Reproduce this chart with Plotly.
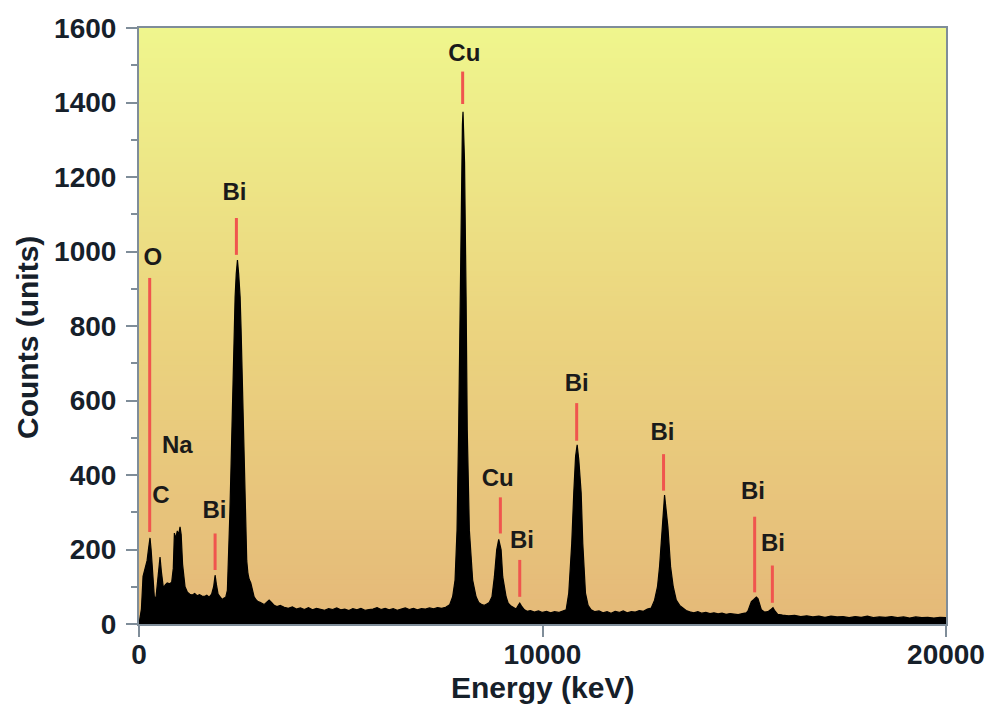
import plotly.graph_objects as go

# ---------------- data ----------------
energy_ev = [
    0, 60, 100, 150, 200, 240, 273, 300, 340, 380, 420, 470, 521, 555, 604, 650,
    700, 760, 810, 850, 877, 910, 950, 985, 1017, 1045, 1080, 1141, 1200, 1260,
    1320, 1380, 1440, 1500, 1560, 1620, 1680, 1740, 1800, 1850, 1886, 1920, 1960,
    2010, 2060, 2110, 2150, 2190, 2216, 2250, 2283, 2310, 2340, 2362, 2382, 2410,
    2440, 2470, 2506, 2530, 2548, 2575, 2605, 2640, 2670, 2700, 2730, 2771, 2810,
    2853, 2900, 2950, 3000, 3044, 3100, 3160, 3225, 3290, 3350, 3420, 3500, 3600,
    3700, 3800, 3900, 4000, 4100, 4200, 4300, 4400, 4500, 4600, 4700, 4800, 4900,
    5000, 5100, 5200, 5300, 5400, 5500, 5600, 5700, 5800, 5900, 6000, 6100, 6200,
    6300, 6400, 6500, 6600, 6700, 6800, 6900, 7000, 7100, 7200, 7300, 7400, 7500,
    7600, 7700, 7773, 7833, 7882, 7922, 7964, 7994, 8015, 8030, 8045, 8068, 8106,
    8135, 8187, 8269, 8354, 8420, 8500, 8560, 8620, 8680, 8748, 8808, 8865, 8915,
    8974, 9014, 9098, 9150, 9220, 9300, 9346, 9400, 9436, 9480, 9552, 9620, 9700,
    9800, 9900, 10000, 10100, 10200, 10300, 10400, 10500, 10586, 10651, 10725,
    10775, 10820, 10859, 10900, 10958, 10998, 11065, 11130, 11206, 11300, 11400,
    11500, 11600, 11700, 11800, 11900, 12000, 12100, 12200, 12300, 12400, 12500,
    12600, 12695, 12777, 12850, 12901, 12968, 13000, 13025, 13060, 13107, 13174,
    13240, 13316, 13400, 13480, 13560, 13650, 13750, 13850, 13950, 14050, 14150,
    14250, 14350, 14450, 14550, 14650, 14750, 14850, 14950, 15050, 15092, 15176,
    15230, 15300, 15340, 15380, 15425, 15500, 15588, 15650, 15712, 15760, 15829,
    15950, 16100, 16250, 16400, 16550, 16700, 16850, 17000, 17150, 17300, 17450,
    17600, 17750, 17900, 18050, 18200, 18350, 18500, 18650, 18800, 18950, 19100,
    19250, 19400, 19550, 19700, 19850, 20000,
]
counts = [
    0, 40, 128, 150, 170, 205, 231, 200, 120, 73, 70, 120, 180, 140, 97, 105,
    110, 108, 112, 150, 244, 230, 250, 240, 261, 240, 160, 100, 85, 80,
    78, 82, 76, 79, 75, 74, 77, 72, 80, 100, 131, 105, 80,
    73, 66, 70, 72, 90, 164, 290, 432, 580, 700, 800, 878, 940,
    977, 940, 878, 790, 700, 560, 432, 280, 170, 135, 120, 110, 95,
    73, 65, 60, 58, 56, 52, 58, 64, 57, 50, 47, 50, 45,
    42, 46, 40, 43, 39, 44, 38, 42, 40, 37, 41, 39, 43,
    38, 40, 36, 41, 38, 42, 37, 39, 40, 44, 39, 42, 38,
    41, 37, 40, 43, 39, 42, 38, 41, 40, 43, 41, 44, 42,
    45, 52, 73, 118, 252, 521, 878, 1240, 1340, 1375, 1330, 1240, 878,
    521, 252, 118, 73, 58, 52, 50, 54, 58, 73, 127, 199, 227,
    199, 127, 73, 56, 48, 42, 40, 50, 56, 48, 38, 34, 36,
    32, 35, 31, 34, 30, 33, 31, 35, 38, 83, 217,
    352, 450, 481, 440, 352, 217, 83, 50, 38, 33, 35,
    30, 33, 29, 34, 31, 35, 30, 33, 32, 36, 34,
    40, 43, 64, 100, 154, 261, 320, 346, 310, 261, 154,
    100, 64, 50, 43, 36, 33, 30, 33, 29, 31, 28,
    30, 27, 29, 26, 28, 27, 25, 28, 30, 35, 60,
    65, 72, 68, 55, 38, 32, 33, 38, 44, 35, 26,
    24, 22, 23, 20, 22, 19, 21, 18, 21, 19, 20,
    17, 20, 18, 21, 17, 19, 18, 20, 17, 19, 16,
    19, 17, 18, 16, 18, 17,
]

label_text = ["O", "C", "Na", "Bi", "Bi", "Cu", "Cu", "Bi", "Bi", "Bi", "Bi", "Bi"]
label_energy = [340, 546, 951, 1869, 2365, 8062, 8890, 9490, 10846, 12975, 15216, 15713]
label_counts = [980, 341, 476, 302, 1155, 1528, 387, 221, 642, 510, 351, 212]

line_energy = [265, 1886, 2414, 8021, 8956, 9436, 10847, 13000, 15258, 15697]
line_top = [929, 243, 1090, 1483, 340, 172, 593, 456, 288, 157]
line_bottom = [247, 145, 991, 1396, 243, 73, 492, 358, 85, 57]

x_ticks = [0, 10000, 20000]
y_ticks = [0, 200, 400, 600, 800, 1000, 1200, 1400, 1600]

x_title = "Energy (keV)"
y_title = "Counts (units)"

# ---------------- figure ----------------
FONT = "Liberation Sans, Arial, Helvetica, sans-serif"
AXIS_COLOR = "#7f8d99"
TEXT_COLOR = "#16202a"
RED = "#f0554e"

fig = go.Figure()

fig.add_trace(go.Scatter(
    x=energy_ev, y=counts, mode="lines",
    line=dict(color="black", width=1.2),
    fill="tozeroy", fillcolor="black",
    hoverinfo="x+y",
))

lx, ly = [], []
for e, t, b in zip(line_energy, line_top, line_bottom):
    lx += [e, e, None]
    ly += [b, t, None]
fig.add_trace(go.Scatter(x=lx, y=ly, mode="lines",
                         line=dict(color=RED, width=3), hoverinfo="skip"))

fig.add_trace(go.Scatter(
    x=label_energy, y=label_counts, mode="text", text=label_text,
    textfont=dict(family=FONT, size=24, color="#1a1a1a", weight="bold"),
    hoverinfo="skip",
))

# vertical gradient background (light yellow top -> tan bottom)
stops = [(0.0, (229, 185, 121)), (0.5, (235, 212, 127)), (1.0, (239, 246, 141))]
N = 120
shapes = []
for i in range(N):
    f0, f1 = i / N, (i + 1) / N
    fm = (f0 + f1) / 2
    for (a, ca), (b, cb) in zip(stops[:-1], stops[1:]):
        if a <= fm <= b:
            t = (fm - a) / (b - a)
            c = tuple(round(ca[k] + (cb[k] - ca[k]) * t) for k in range(3))
            break
    shapes.append(dict(type="rect", xref="x domain", yref="y domain",
                       x0=0, x1=1, y0=f0, y1=f1 + 0.002, layer="below",
                       line=dict(width=0), fillcolor="rgb(%d,%d,%d)" % c))

title_font = dict(family=FONT, size=30, color=TEXT_COLOR, weight="bold")
annotations = [
    dict(text=x_title, xref="paper", yref="paper", x=0.5, y=-0.107,
         xanchor="center", yanchor="middle", showarrow=False, font=title_font),
    dict(text=y_title, xref="paper", yref="paper", x=-0.1375, y=0.48,
         xanchor="center", yanchor="middle", textangle=-90, showarrow=False,
         font=title_font),
]

fig.update_layout(
    width=992, height=706,
    margin=dict(l=139, r=46, t=28, b=82),
    paper_bgcolor="white", plot_bgcolor="#ebd47f",
    showlegend=False,
    shapes=shapes,
    annotations=annotations,
    font=dict(family=FONT, color=TEXT_COLOR),
)
fig.update_xaxes(
    range=[0, 20000], tickvals=x_ticks, ticktext=[str(v) for v in x_ticks],
    showgrid=False, zeroline=False, automargin=False,
    showline=True, linecolor=AXIS_COLOR, linewidth=2, mirror=True,
    ticks="outside", ticklen=11, tickwidth=2, tickcolor=AXIS_COLOR,
    ticklabelstandoff=-7,
    tickfont=dict(family=FONT, size=28, color=TEXT_COLOR, weight="bold"),
)
fig.update_yaxes(
    range=[0, 1600], tickvals=y_ticks,
    showgrid=False, zeroline=False, automargin=False,
    showline=True, linecolor=AXIS_COLOR, linewidth=2, mirror=True,
    ticks="outside", ticklen=11, tickwidth=2, tickcolor=AXIS_COLOR,
    ticklabelstandoff=4,
    minor=dict(dtick=100, ticks="outside", ticklen=6, tickwidth=2,
               tickcolor=AXIS_COLOR, showgrid=False),
    tickfont=dict(family=FONT, size=28, color=TEXT_COLOR, weight="bold"),
)

fig.write_html("out.html")
